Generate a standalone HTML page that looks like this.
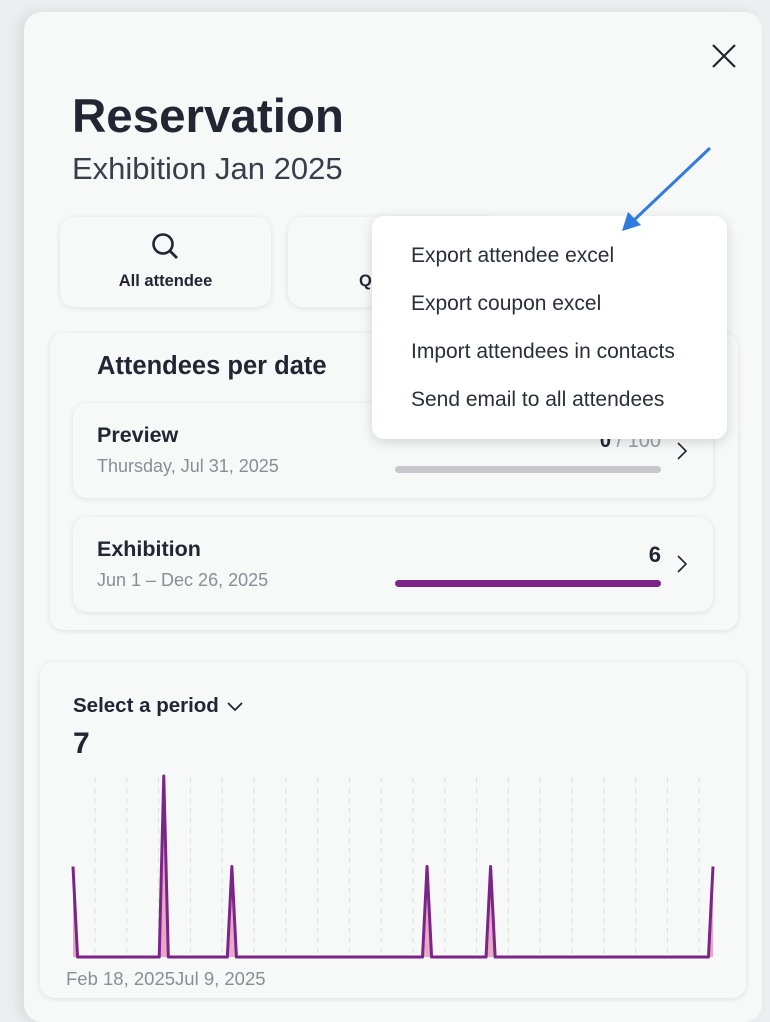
<!DOCTYPE html>
<html><head><meta charset="utf-8"><style>
*{box-sizing:border-box;margin:0;padding:0}
body{width:770px;height:1014px;overflow:hidden;background:#eceef0;font-family:"Liberation Sans",sans-serif;color:#222633;position:relative}
.abs{position:absolute}
.panel{left:24px;top:12px;width:738px;height:1010px;background:#f7f8f8;border-radius:18px;box-shadow:-6px 0 14px rgba(0,0,0,.08)}
.card{background:#f7f8f8;border-radius:14px;box-shadow:0 1px 6px rgba(0,0,0,.10)}
.t{position:absolute;white-space:nowrap}
</style></head><body>
<div class="abs panel"></div>
<svg class="abs" style="left:710px;top:42px" width="28" height="28"><path d="M3 3L25 25M25 3L3 25" stroke="#222633" stroke-width="2.2"/></svg>
<div class="t" style="left:72px;top:89px;font-size:47.5px;font-weight:bold">Reservation</div>
<div class="t" style="left:72px;top:151px;font-size:31px;font-weight:300;color:#3a3e4a">Exhibition Jan 2025</div>

<div class="abs card" style="left:60px;top:217px;width:211px;height:90px">
<svg class="abs" style="left:89px;top:13px" width="32" height="32"><circle cx="14" cy="14" r="9.5" fill="none" stroke="#222633" stroke-width="2.6"/><path d="M21 21L28 28" stroke="#222633" stroke-width="2.8"/></svg>
<div class="t" style="left:0;width:211px;text-align:center;top:55px;font-size:16.5px;font-weight:bold">All attendee</div></div>
<div class="abs card" style="left:288px;top:217px;width:211px;height:90px">
<div class="t" style="left:71px;top:55px;font-size:16.5px;font-weight:bold">Q</div></div>

<div class="abs card" style="left:50px;top:333px;width:688px;height:297px"></div>
<div class="t" style="left:97px;top:352px;font-size:25.5px;font-weight:600">Attendees per date</div>
<div class="abs card" style="left:73px;top:403px;width:640px;height:95px">
<div class="t" style="left:24px;top:20px;font-size:21.5px;font-weight:bold">Preview</div>
<div class="t" style="left:24px;top:53px;font-size:18px;color:#8a8d96">Thursday, Jul 31, 2025</div>
<div class="t" style="right:52px;top:27px;font-size:20px"><b>0</b><span style="color:#9a9ca3"> / 100</span></div>
<div class="abs" style="left:322px;top:63px;width:266px;height:7px;border-radius:4px;background:#c8c8cc"></div>
<svg class="abs" style="left:602px;top:38px" width="14" height="20"><path d="M3 2L11 10L3 18" fill="none" stroke="#222633" stroke-width="1.6"/></svg></div>
<div class="abs card" style="left:73px;top:517px;width:640px;height:95px">
<div class="t" style="left:24px;top:20px;font-size:21.5px;font-weight:bold">Exhibition</div>
<div class="t" style="left:24px;top:53px;font-size:18px;color:#8a8d96">Jun 1 – Dec 26, 2025</div>
<div class="t" style="right:52px;top:25px;font-size:22px;font-weight:bold">6</div>
<div class="abs" style="left:322px;top:63px;width:266px;height:7px;border-radius:4px;background:#7b2589"></div>
<svg class="abs" style="left:602px;top:37px" width="14" height="20"><path d="M3 2L11 10L3 18" fill="none" stroke="#222633" stroke-width="1.6"/></svg></div>

<div class="abs" style="left:372px;top:216px;width:355px;height:223px;background:#fff;border-radius:12px;box-shadow:0 3px 12px rgba(0,0,0,.15)">
<div class="t" style="left:39px;top:28px;font-size:21px;color:#2a2e3a">Export attendee excel</div>
<div class="t" style="left:39px;top:76px;font-size:21px;color:#2a2e3a">Export coupon excel</div>
<div class="t" style="left:39px;top:124px;font-size:21px;color:#2a2e3a">Import attendees in contacts</div>
<div class="t" style="left:39px;top:172px;font-size:21px;color:#2a2e3a">Send email to all attendees</div></div>
<svg class="abs" style="left:0;top:0" width="770" height="300"><path d="M710 148L632 222" stroke="#2f7be0" stroke-width="3"/><path d="M622 231L628 212L641 225Z" fill="#2f7be0"/></svg>

<div class="abs card" style="left:40px;top:662px;width:706px;height:336px"></div>
<div class="t" style="left:73px;top:694px;font-size:20.5px;font-weight:600">Select a period <svg width="20" height="14" style="vertical-align:middle"><path d="M3 3L10 10L17 3" fill="none" stroke="#222633" stroke-width="1.8"/></svg></div>
<div class="t" style="left:73px;top:727px;font-size:30px;font-weight:600">7</div>
<svg id="chart" class="abs" style="left:0;top:0" width="770" height="1014"></svg>
<script>
const totalDays = 142;
const peakDays = [0, 20, 35, 78, 92, 141];
const peakCounts = [1, 2, 1, 1, 1, 1];
const gridCount = 20;
const xLabels = ["Feb 18, 2025", "Jul 9, 2025"];
const NS = "http://www.w3.org/2000/svg";
const svg = document.getElementById('chart');
const x0 = 73, x1 = 713, yBase = 957, yTop = 776;
const xs = d => x0 + d * (x1 - x0) / (totalDays - 1);
const ys = v => yBase - v * (yBase - yTop) / 2;
for (let i = 0; i < gridCount; i++) {
  const gx = 95 + i * 31.8;
  const l = document.createElementNS(NS, 'line');
  
  
  l.setAttribute('x1', gx); l.setAttribute('x2', gx); l.setAttribute('y1', 778); l.setAttribute('y2', 957);
  l.setAttribute('stroke', '#dcdcdf'); l.setAttribute('stroke-dasharray', '5 5'); l.setAttribute('stroke-width', 1);
  svg.appendChild(l);
}
const vals = new Array(totalDays).fill(0);
peakDays.forEach((d, i) => vals[d] = peakCounts[i]);
let pts = [];
vals.forEach((v, d) => pts.push([xs(d), ys(v)]));
const area = document.createElementNS(NS, 'path');


area.setAttribute('d', 'M' + pts.map(p => p.join(',')).join('L') + `L${x1},${yBase}L${x0},${yBase}Z`);
area.setAttribute('fill', '#e7a9c6');
svg.appendChild(area);
const line = document.createElementNS(NS, 'path');


line.setAttribute('d', 'M' + pts.map(p => p.join(',')).join('L'));
line.setAttribute('fill', 'none'); line.setAttribute('stroke', '#7b2589'); line.setAttribute('stroke-width', 3); line.setAttribute('stroke-linejoin', 'round');
svg.appendChild(line);
const t = document.createElementNS(NS, 'text');


t.setAttribute('x', 66); t.setAttribute('y', 985);
t.setAttribute('font-size', 18.5); t.setAttribute('fill', '#8a8d96'); t.setAttribute('font-family', 'Liberation Sans, sans-serif');
t.textContent = xLabels.join('');
svg.appendChild(t);
</script>
</body></html>
